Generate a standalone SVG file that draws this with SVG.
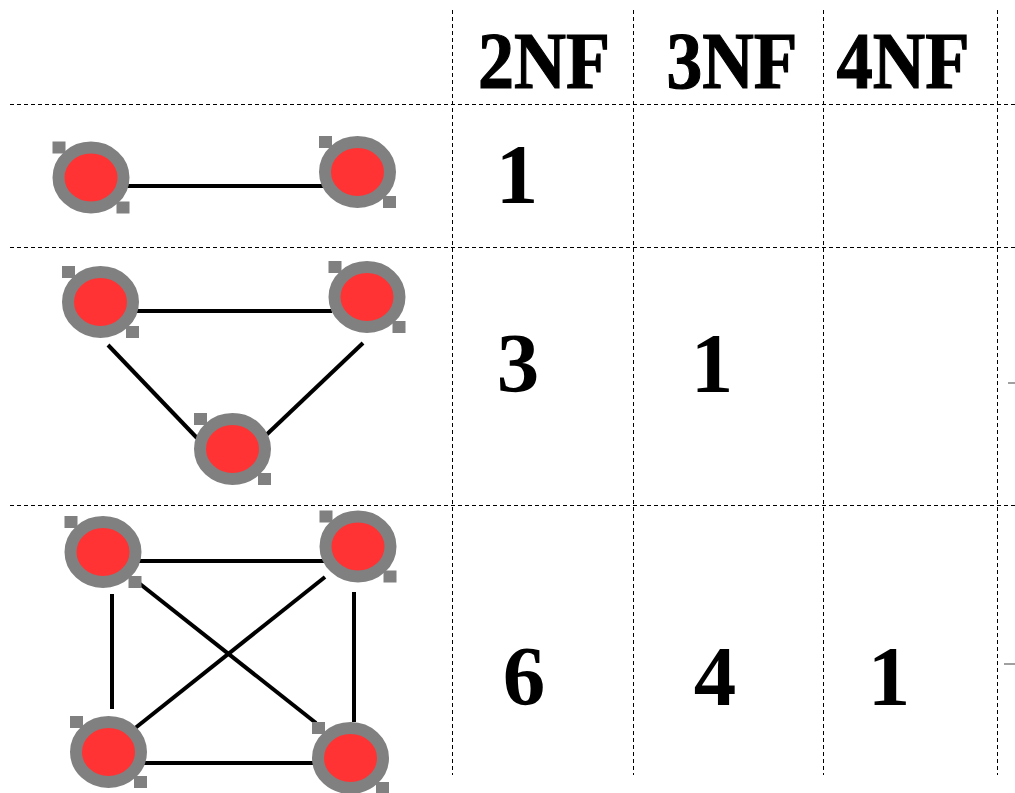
<svg xmlns="http://www.w3.org/2000/svg" xmlns:xlink="http://www.w3.org/1999/xlink" width="1015" height="793" viewBox="0 0 1015 793">
<style>
.grid{stroke:#000;stroke-width:1;stroke-dasharray:4 3;fill:none}
.tick{stroke:#808080;stroke-width:1.5}
.edge{stroke:#000;stroke-width:4;fill:none}
.hdr{font-family:"Liberation Serif",serif;font-weight:bold;font-size:80px;fill:#000;stroke:#000;stroke-width:1.2;text-anchor:middle}
.num{font-family:"Liberation Serif",serif;font-weight:bold;font-size:85px;fill:#000;text-anchor:middle}
.ring{fill:#ff3333;stroke:#808080;stroke-width:12}
.sq{fill:#808080}
</style>
<defs>
<g id="nodeShape">
<ellipse class="ring" cx="0" cy="0" rx="32.5" ry="30"/>
<rect class="sq" x="-38.5" y="-36" width="13" height="12"/>
<rect class="sq" x="25.5" y="24" width="13" height="12"/>
</g>
</defs>
<rect width="1015" height="793" fill="#fff"/>
<g id="grid">
<line class="grid" x1="10" y1="104.5" x2="1015" y2="104.5"/>
<line class="grid" x1="10" y1="247.5" x2="1015" y2="247.5"/>
<line class="grid" x1="10" y1="505.5" x2="1015" y2="505.5"/>
<line class="grid" x1="452.5" y1="10" x2="452.5" y2="775"/>
<line class="grid" x1="633.5" y1="10" x2="633.5" y2="775"/>
<line class="grid" x1="823.5" y1="10" x2="823.5" y2="775"/>
<line class="grid" x1="997.5" y1="10" x2="997.5" y2="775"/>
<line class="tick" x1="1008" y1="383" x2="1015" y2="383"/>
<line class="tick" x1="1004" y1="664" x2="1015" y2="664"/>
</g>
<g id="headers">
<text class="hdr" x="544" y="88" textLength="132" lengthAdjust="spacingAndGlyphs">2NF</text>
<text class="hdr" x="732" y="88" textLength="131" lengthAdjust="spacingAndGlyphs">3NF</text>
<text class="hdr" x="903" y="88" textLength="133" lengthAdjust="spacingAndGlyphs">4NF</text>
</g>
<g id="counts">
<text class="num" x="517" y="203">1</text>
<text class="num" x="518" y="392">3</text>
<text class="num" x="712" y="392">1</text>
<text class="num" x="524" y="705">6</text>
<text class="num" x="715" y="705">4</text>
<text class="num" x="889" y="705">1</text>
</g>
<g id="connectors">
<line class="edge" x1="126" y1="186" x2="323" y2="186"/>
<line class="edge" x1="135" y1="311" x2="332" y2="311"/>
<line class="edge" x1="108" y1="345" x2="197" y2="438"/>
<line class="edge" x1="363" y1="343" x2="263" y2="438"/>
<line class="edge" x1="136" y1="561" x2="325" y2="561"/>
<line class="edge" x1="112" y1="594" x2="112" y2="709"/>
<line class="edge" x1="354" y1="592" x2="354" y2="722"/>
<line class="edge" x1="135" y1="763" x2="323" y2="763"/>
<line class="edge" x1="135" y1="580" x2="316" y2="723"/>
<line class="edge" x1="325" y1="577" x2="134" y2="729"/>
</g>
<g id="node-r1-a"><use xlink:href="#nodeShape" x="91" y="177.5"/></g>
<g id="node-r1-b"><use xlink:href="#nodeShape" x="357.5" y="172"/></g>
<g id="node-r2-a"><use xlink:href="#nodeShape" x="100.5" y="302"/></g>
<g id="node-r2-b"><use xlink:href="#nodeShape" x="367" y="297"/></g>
<g id="node-r2-c"><use xlink:href="#nodeShape" x="232.5" y="449"/></g>
<g id="node-r3-a"><use xlink:href="#nodeShape" x="103" y="552"/></g>
<g id="node-r3-b"><use xlink:href="#nodeShape" x="358" y="546.5"/></g>
<g id="node-r3-c"><use xlink:href="#nodeShape" x="108.5" y="752"/></g>
<g id="node-r3-d"><use xlink:href="#nodeShape" x="350.5" y="758"/></g>
</svg>
